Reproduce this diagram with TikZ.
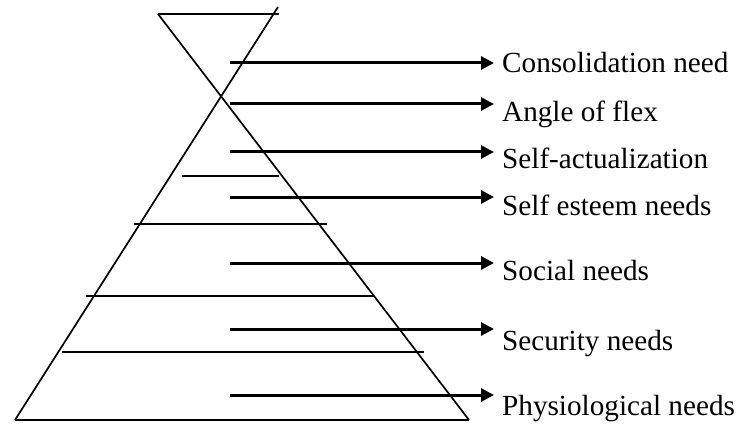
\documentclass[tikz,border=0pt]{standalone}
\usepackage{fontspec}
\setmainfont{Liberation Serif}
\usetikzlibrary{arrows.meta,positioning}

\begin{document}
\begin{tikzpicture}[
    x=1pt, y=-1pt,
    need/.style={anchor=base west, inner sep=0pt, font=\fontsize{29.2}{33}\selectfont},
    edge/.style={line width=1.7pt, draw=black},
    level/.style={line width=1.7pt, draw=black},
    pointer/.style={line width=3pt, draw=black, shorten >=8pt, -{Triangle[length=13pt,width=13pt]}}
]
\useasboundingbox (0,0) rectangle (739,425);

% Corners of the pyramid
\coordinate (topleft) at (158,14);
\coordinate (topright) at (279,14);
\coordinate (tip) at (278,7);
\coordinate (baseleft) at (15,420);
\coordinate (baseright) at (469,420);

% Outline
\draw[edge] (topleft) -- (topright);
\draw[edge] (baseleft) -- (tip);
\draw[edge] (topleft) -- (baseright);
\draw[edge] (baseleft) -- (baseright);

% Levels
\coordinate (levelAl) at (182,176);  \coordinate (levelAr) at (279,176);
\coordinate (levelBl) at (134,224);  \coordinate (levelBr) at (327,224);
\coordinate (levelCl) at (86,296);   \coordinate (levelCr) at (374,296);
\coordinate (levelDl) at (62,352);   \coordinate (levelDr) at (424,352);
\draw[level] (levelAl) -- (levelAr);
\draw[level] (levelBl) -- (levelBr);
\draw[level] (levelCl) -- (levelCr);
\draw[level] (levelDl) -- (levelDr);

% Needs
\node[need] (consolidation) at (502,73) {Consolidation need};
\node[need] (flex) at (502,122) {Angle of flex};
\node[need] (actualization) at (502,168) {Self-actualization};
\node[need] (esteem) at (502,215) {Self esteem needs};
\node[need] (social) at (502,280) {Social needs};
\node[need] (security) at (502,350) {Security needs};
\node[need] (physiological) at (502,415) {Physiological needs};

% Arrow starts
\coordinate (fromconsolidation) at (230,63);
\coordinate (fromflex) at (230,104);
\coordinate (fromactualization) at (230,152);
\coordinate (fromesteem) at (230,197);
\coordinate (fromsocial) at (230,263);
\coordinate (fromsecurity) at (230,329);
\coordinate (fromphysiological) at (230,395);

% Arrows
\draw[pointer] (fromconsolidation) -- (fromconsolidation -| consolidation.west);
\draw[pointer] (fromflex) -- (fromflex -| flex.west);
\draw[pointer] (fromactualization) -- (fromactualization -| actualization.west);
\draw[pointer] (fromesteem) -- (fromesteem -| esteem.west);
\draw[pointer] (fromsocial) -- (fromsocial -| social.west);
\draw[pointer] (fromsecurity) -- (fromsecurity -| security.west);
\draw[pointer] (fromphysiological) -- (fromphysiological -| physiological.west);

\end{tikzpicture}
\end{document}
